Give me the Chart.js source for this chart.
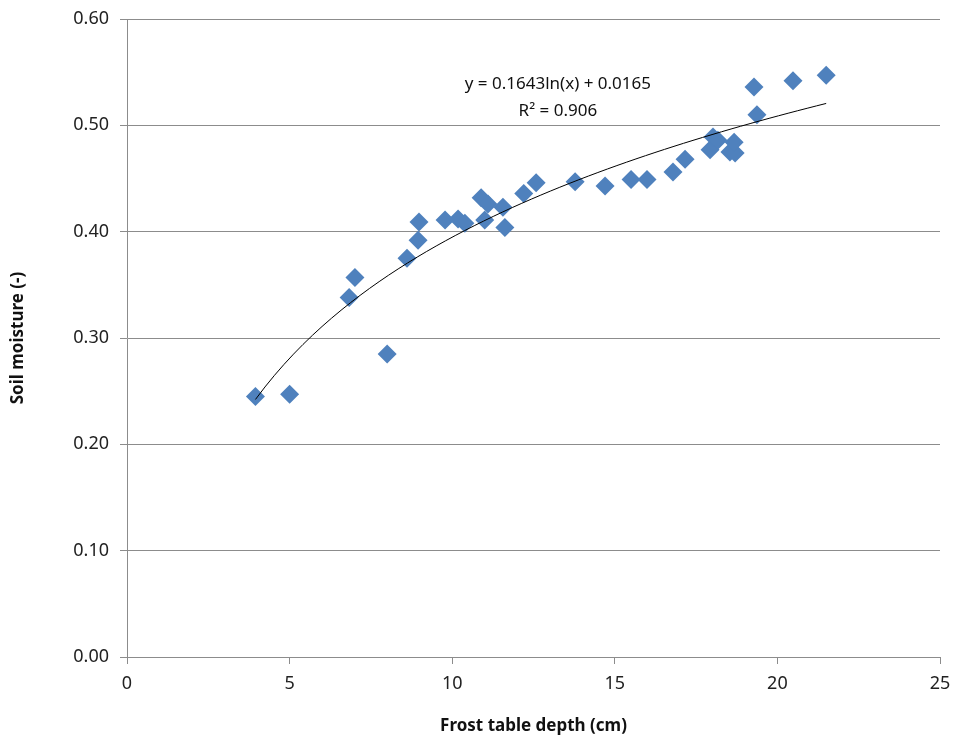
<!DOCTYPE html>
<html>
<head>
<meta charset="utf-8">
<script src="https://cdn.jsdelivr.net/npm/chart.js@4/dist/chart.umd.min.js"></script>
<style>
  html, body { margin: 0; padding: 0; background: #fff; }
  #wrap { width: 956px; height: 736px; }
</style>
</head>
<body>
<div id="wrap"><canvas id="moisture_chart" width="956" height="736"></canvas></div>
<script>
// frost table depth (cm) vs. soil moisture
const depth = [3.95, 5.0, 6.83, 7.01, 8.0, 8.61, 8.95, 8.98, 9.78, 10.18, 10.39, 10.89, 11.0, 11.1,
               11.56, 11.62, 12.2, 12.58, 13.78, 14.7, 15.5, 15.99, 16.79, 17.16, 17.93, 18.02,
               18.17, 18.54, 18.7, 18.67, 19.28, 19.37, 20.48, 21.5];
const moisture = [0.245, 0.247, 0.338, 0.357, 0.285, 0.375, 0.392, 0.409, 0.411, 0.412, 0.408, 0.432,
                  0.411, 0.426, 0.423, 0.404, 0.436, 0.446, 0.447, 0.443, 0.449, 0.449, 0.456, 0.468,
                  0.477, 0.489, 0.486, 0.475, 0.474, 0.484, 0.536, 0.510, 0.542, 0.547];

// log fit: y = a ln(x) + b
const fitA = 0.1643;
const fitB = 0.0165;
const fitLabel = ["y = 0.1643ln(x) + 0.0165", "R² = 0.906"];

const xTicks = [0, 5, 10, 15, 20, 25];
const yTicks = [0.0, 0.1, 0.2, 0.3, 0.4, 0.5, 0.6];

let points = depth.map(function (d, i) { return { x: d, y: moisture[i] } });

// trend curve from min to max depth
let fitLine = [];
let xMin = Math.min.apply(null, depth), xMax = Math.max.apply(null, depth);
for (let k = 0; k <= 60; k++) {
    let x = xMin + (xMax - xMin) * k / 60;
    fitLine.push({ x: x, y: fitA * Math.log(x) + fitB });
}

const FONT = "'Noto Sans', 'Liberation Sans', sans-serif";

// equation text above the curve
const fitText = {
    id: 'fitText',
    afterDatasetsDraw: function (chart) {
        let c = chart.ctx;
        let xs = chart.scales.x, ys = chart.scales.y;
        c.save();
        c.fillStyle = '#111';
        c.font = '17px ' + FONT;
        c.textAlign = 'center';
        c.textBaseline = 'middle';
        c.fillText(fitLabel[0], xs.getPixelForValue(13.25), ys.getPixelForValue(0.539));
        c.fillText(fitLabel[1], xs.getPixelForValue(13.25), ys.getPixelForValue(0.513));
        c.restore();
    }
};

let ctx = document.getElementById('moisture_chart');

new Chart(ctx, {
    type: 'scatter',
    data: {
        datasets: [{
            label: 'Soil moisture',
            data: points,
            pointStyle: 'rectRot',
            pointRadius: 9.5,
            pointHoverRadius: 9.5,
            backgroundColor: '#4f81bd',
            borderColor: '#4f81bd',
            borderWidth: 0,
            order: 2
        }, {
            label: 'Log fit',
            type: 'line',
            data: fitLine,
            borderColor: '#000',
            borderWidth: 1,
            pointRadius: 0,
            tension: 0,
            fill: false,
            order: 1
        }]
    },
    options: {
        responsive: false,
        animation: false,
        layout: { padding: { top: 19, right: 16, left: 0, bottom: 0 } },
        plugins: { legend: { display: false }, tooltip: { enabled: false } },
        scales: {
            x: {
                type: 'linear',
                min: 0,
                max: 25,
                afterBuildTicks: function (s) { s.ticks = xTicks.map(function (v) { return { value: v } }) },
                afterFit: function (s) { s.height = 79; s.paddingLeft = 0; s.paddingRight = 0 },
                grid: { drawOnChartArea: false, drawTicks: true, tickLength: 7, color: '#8c8c8c' },
                border: { color: '#8c8c8c', width: 1 },
                ticks: { color: '#222', font: { family: FONT, size: 18 }, padding: 9, maxRotation: 0 },
                title: {
                    display: true,
                    text: 'Frost table depth (cm)',
                    color: '#111',
                    font: { family: FONT, size: 17, weight: 'bold' },
                    padding: { top: 2, bottom: 0 }
                }
            },
            y: {
                type: 'linear',
                min: 0,
                max: 0.6,
                afterBuildTicks: function (s) { s.ticks = yTicks.map(function (v) { return { value: v } }) },
                afterFit: function (s) { s.width = 127; s.paddingTop = 0; s.paddingBottom = 0 },
                grid: { color: '#8c8c8c', tickLength: 7, lineWidth: 1 },
                border: { color: '#8c8c8c', width: 1 },
                ticks: {
                    color: '#222',
                    font: { family: FONT, size: 18 },
                    padding: 11,
                    callback: function (v) { return v.toFixed(2) }
                },
                title: {
                    display: true,
                    text: 'Soil moisture (-)',
                    color: '#111',
                    font: { family: FONT, size: 17, weight: 'bold' },
                    padding: { top: 8, bottom: 0 }
                }
            }
        }
    },
    plugins: [fitText]
});
</script>
</body>
</html>
